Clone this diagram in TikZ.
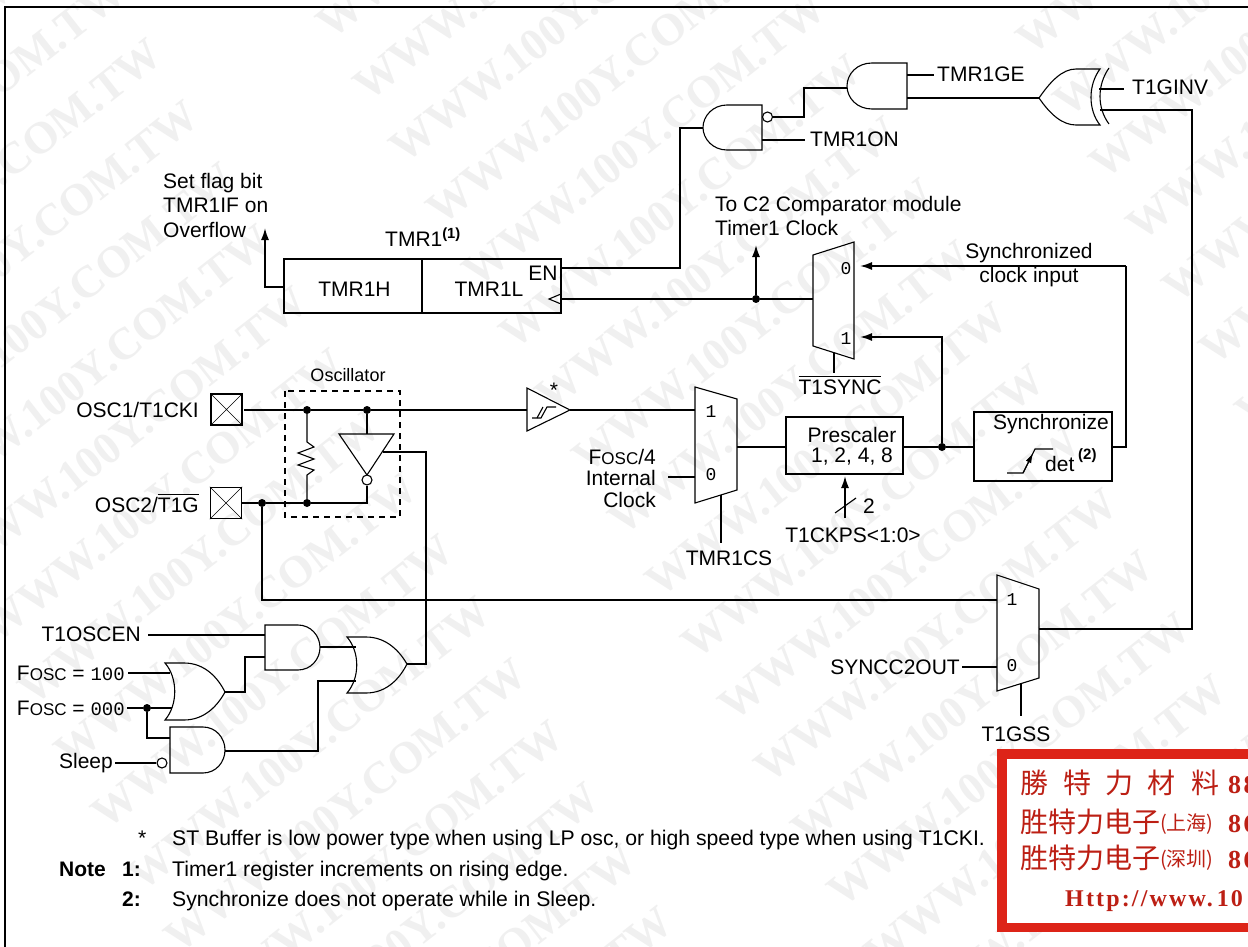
\documentclass[tikz,border=0pt]{standalone}
\usepackage{fontspec}
\usepackage{amsmath}
\setmainfont{Liberation Sans}
\newfontfamily\pinfont{Liberation Mono}
\newfontfamily\cjk{Noto Sans CJK SC}
\newfontfamily\stampfont[LetterSpace=9]{Liberation Serif}
\newfontfamily\markfont{Liberation Serif}
\usetikzlibrary{arrows.meta}
\definecolor{stampred}{RGB}{221,36,24}
\newcommand{\fosc}{F{\fontsize{17}{17}\selectfont OSC}}
\tikzset{
  wire/.style={line width=1.7pt},
  body/.style={line width=1.1pt},
  dot/.style={inner sep=0pt,minimum size=8pt,circle,fill=black},
  bubble/.style={circle,draw,body,fill=white,inner sep=0pt,minimum size=10pt},
  lbl/.style={inner sep=0pt,font=\fontsize{21}{24.5}\selectfont},
  small/.style={inner sep=0pt,font=\fontsize{18}{20}\selectfont},
  note/.style={inner sep=0pt,anchor=base west,font=\fontsize{21.2}{24}\selectfont},
  noteb/.style={note,font=\fontsize{21}{24}\selectfont\bfseries},
  pin/.style={inner sep=0pt,font=\pinfont\fontsize{18}{18}\selectfont},
  pad/.style={draw,line width=1.3pt,minimum size=31pt,inner sep=0pt},
  box/.style={draw,line width=1.5pt,inner sep=0pt},
  stamp/.style={inner sep=0pt,anchor=base west,text=stampred!85!black},
}
\begin{document}
\begin{tikzpicture}[x=1pt,y=-1pt,>={Latex[length=12pt,width=8pt]}]
\useasboundingbox (0,0) rectangle (1248,947);
\fill[white] (0,0) rectangle (1248,947);

% watermark
\foreach \j/\ia/\ib in {-1/-3/13,0/-1/16,1/5/12}{
  \foreach \i in {\ia,...,\ib}{
    \node[inner sep=0pt,anchor=west,rotate=38,text=black!6,font=\markfont\bfseries\fontsize{45}{45}\selectfont]
      (mark\i\j) at ({322.5+36.5*\i+481*\j},{29+62*\i-356*\j}) {WWW.100Y.COM.TW};
  }
}

% frame
\coordinate (frameA) at (5,947);
\coordinate (frameB) at (5,7);
\coordinate (frameC) at (1248,7);
\draw[line width=1.8pt] (frameA) -- (frameB) -- (frameC);

% gates
\draw[body] (907,63) -- (872,63) .. controls (857,63) and (847,74) .. (847,86) .. controls (847,98) and (857,109) .. (872,109) -- (907,109) -- cycle;
\draw[body] (762,105) -- (727,105) .. controls (713,105) and (703,116) .. (703,127.5) .. controls (703,139) and (713,150) .. (727,150) -- (762,150) -- cycle;
\draw[body] (1039,98) .. controls (1050,82) and (1062,69) .. (1076,69) -- (1100,69) .. controls (1088,85) and (1088,110) .. (1100,125) -- (1076,125) .. controls (1062,125) and (1050,114) .. (1039,98) -- cycle;
\draw[body] (1109,68) .. controls (1097,85) and (1097,108) .. (1109,124);
\draw[body] (265,625) -- (298,625) .. controls (311,625) and (320,636) .. (320,647.5) .. controls (320,659) and (311,670) .. (298,670) -- (265,670) -- cycle;
\draw[body] (165,663) -- (184,663) .. controls (205,663) and (218,678) .. (225,692) .. controls (218,705) and (205,720) .. (184,720) -- (165,720) .. controls (178,705) and (178,678) .. (165,663) -- cycle;
\draw[body] (170,727) -- (203,727) .. controls (216,727) and (225,738) .. (225,750) .. controls (225,762) and (216,773) .. (203,773) -- (170,773) -- cycle;
\draw[body] (347,637) -- (366,637) .. controls (387,637) and (400,652) .. (407,664) .. controls (400,678) and (387,693) .. (366,693) -- (347,693) .. controls (360,678) and (360,652) .. (347,637) -- cycle;
\node[bubble] (onB) at (767.5,117) {};
\node[bubble] (slB) at (162,763) {};

% TMR1 register
\node[box,minimum width=138pt,minimum height=54pt] (tmrH) at (353,286) {};
\node[box,minimum width=139pt,minimum height=54pt] (tmrL) at (491.5,286) {};
\node[lbl] (tmrHt) at (354.5,289) {TMR1H};
\node[lbl] (tmrLt) at (489,289) {TMR1L};
\node[lbl] (tmrEn) at (543,273) {EN};
\node[lbl,anchor=base] (tmrT) at (423,246) {TMR1\textsuperscript{\bfseries(1)}};
\node[lbl,anchor=west,align=left] (flagT) at (163,205) {Set flag bit\\TMR1IF on\\Overflow};
\coordinate (hPin) at (284,287);
\coordinate (enPin) at (561,268);
\coordinate (clkPin) at (561,299);
\coordinate (flagEnd) at (265,228);
\draw[body] (561,294) -- (549,299) -- (561,304);
\draw[wire,->] (hPin) -| (flagEnd);
\coordinate (onOut) at (703,128);
\coordinate (onCor) at (680,128);
\draw[wire] (onOut) -- (onCor) |- (enPin);
\coordinate (geOut) at (847,88);
\coordinate (geCor) at (804,88);
\draw[wire] (onB) -| (geCor) -- (geOut);
\node[lbl,anchor=west] (onT) at (810,139) {TMR1ON};
\coordinate (onIn) at (762,140);
\coordinate (onPin) at (805,140);
\draw[wire] (onIn) -- (onPin);
\node[lbl,anchor=west] (geT) at (937,74) {TMR1GE};
\coordinate (geIn) at (907,75);
\coordinate (gePin) at (934,75);
\draw[wire] (geIn) -- (gePin);
\coordinate (geIn2) at (907,98);
\coordinate (invTip) at (1039,98);
\draw[wire] (geIn2) -- (invTip);
\node[lbl,anchor=west] (invT) at (1132,87) {T1GINV};
\coordinate (invIn) at (1099,89);
\coordinate (invPin) at (1124,89);
\draw[wire] (invIn) -- (invPin);

% clock mux
\draw[body] (813,255) -- (854,242) -- (854,359) -- (813,346) -- cycle;
\coordinate (mOut) at (813,299);
\coordinate (mIn0) at (860,266);
\coordinate (mIn1) at (860,337);
\coordinate (mSel) at (834,352.5);
\node[pin] (mT0) at (846,269) {0};
\node[pin] (mT1) at (846,339) {1};
\node[dot] (dClk) at (756,299) {};
\coordinate (toC2) at (756,245);
\draw[wire] (clkPin) -- (dClk) -- (mOut);
\draw[wire,->] (dClk) -- (toC2);
\node[lbl,anchor=west,align=left] (c2T) at (715,216) {To C2 Comparator module\\Timer1 Clock};
\coordinate (syncBar) at (834,373);
\draw[wire] (mSel) -- (syncBar);
\node[lbl] (syncT) at (840,385) {$\overline{\mbox{T1SYNC}}$};
\node[lbl,align=center] (clkT) at (1029,265) {Synchronized\\clock input};

% prescaler and synchronizer
\node[box,minimum width=117pt,minimum height=57pt] (pre) at (844.5,445.5) {};
\node[lbl,align=center,font=\fontsize{21}{20}\selectfont] (preT) at (852,446) {Prescaler\\1, 2, 4, 8};
\node[box,minimum width=138pt,minimum height=69pt] (syn) at (1043,446.5) {};
\node[lbl,anchor=west] (synT) at (993,424) {Synchronize};
\node[lbl,anchor=base west] (detT) at (1045,471) {det};
\node[anchor=base west,inner sep=0pt,font=\fontsize{15}{15}\selectfont\bfseries] (detN) at (1078,459) {(2)};
\coordinate (edgeA) at (1007,473);
\coordinate (edgeB) at (1023,473);
\coordinate (edgeC) at (1035,449);
\coordinate (edgeD) at (1053,449);
\coordinate (edgeM) at (1033,453);
\draw[body] (edgeA) -- (edgeB) -- (edgeC) -- (edgeD);
\draw[body,-{Latex[length=10pt,width=6pt]}] (edgeB) -- (edgeM);
\node[dot] (dPre) at (942,447) {};
\coordinate (synOut) at (1112,447);
\coordinate (synCorner) at (1126,266);
\draw[wire] (pre.east |- dPre) -- (dPre) -- (syn.west |- dPre);
\draw[wire] (synOut) -| (synCorner);
\draw[wire,->] (synCorner) -- (mIn0);
\draw[wire,->] (dPre) |- (mIn1);
\coordinate (kpsA) at (845,518);
\coordinate (kpsB) at (845,476);
\coordinate (kpsC) at (835,513);
\coordinate (kpsD) at (856,498);
\draw[wire,->] (kpsA) -- (kpsB);
\draw[body] (kpsC) -- (kpsD);
\node[lbl] (kpsN) at (869,506) {2};
\node[lbl] (kpsT) at (853,535) {T1CKPS<1:0>};

% clock source mux
\draw[body] (695,387) -- (737,399) -- (737,490) -- (695,503) -- cycle;
\coordinate (sIn1) at (695,410);
\coordinate (sIn0) at (695,477);
\coordinate (sOut) at (737,447);
\coordinate (sSel) at (721,495);
\coordinate (sEnd) at (721,543);
\coordinate (sLine) at (668,477);
\node[pin] (sT1) at (711,412) {1};
\node[pin] (sT0) at (711,475) {0};
\draw[wire] (sOut) -- (pre.west |- sOut);
\draw[wire] (sLine) -- (sIn0);
\draw[wire] (sSel) -- (sEnd);
\node[lbl] (csT) at (729,558) {TMR1CS};
\node[lbl,align=right,anchor=east,font=\fontsize{21}{21.5}\selectfont] (foT) at (656,478) {\fosc/4\\Internal\\Clock};

% Schmitt buffer
\draw[body] (527,388) -- (570,410) coordinate (bufOut) -- (527,431) -- cycle;
\coordinate (bufIn) at (527,410);
\draw[body] (532,418) -- (541,418) -- (547,407) -- (556,407);
\draw[body] (537,418) -- (543,407);
\node[lbl] (bufS) at (554,390) {*};
\draw[wire] (bufOut) -- (sIn1);

% pads and oscillator
\node[pad] (pad1) at (226.5,409.5) {};
\node[pad] (pad2) at (226,503) {};
\draw[thin] (pad1.north west) -- (pad1.south east) (pad1.north east) -- (pad1.south west);
\draw[thin] (pad2.north west) -- (pad2.south east) (pad2.north east) -- (pad2.south west);
\node[lbl,anchor=east] (pad1T) at (199,410) {OSC1/T1CKI};
\node[lbl,anchor=east] (pad2T) at (199,503) {OSC2/$\overline{\mbox{T1G}}$};
\node[small] (oscT) at (348,375) {Oscillator};
\draw[body,dash pattern=on 6pt off 5pt] (285,391) rectangle (400,517);
\node[dot] (dA) at (307,410) {};
\node[dot] (dB) at (367,410) {};
\node[dot] (dC) at (307,503) {};
\node[dot] (dD) at (262,503) {};
\coordinate (p1Out) at (244,410);
\coordinate (p2Out) at (242,503);
\coordinate (invTop) at (367,434);
\coordinate (invBack) at (367,503);
\coordinate (invFb) at (383,452);
\coordinate (fbCorner) at (426,452);
\coordinate (orOut) at (407,664);
\draw[wire] (p1Out) -- (dA) -- (dB) -- (bufIn);
\draw[wire] (dB) -- (invTop);
\draw[body] (339,434) -- (394,434) -- (367,475) -- cycle;
\node[bubble] (invB) at (367,480) {};
\draw[wire] (p2Out) -- (dD) -- (dC) -- (invBack) -- (invB);
\draw[body] (dA) -- (307,442) -- (314,447) -- (298,453) -- (314,459) -- (298,465) -- (314,470) -- (307,475) -- (dC);
\draw[wire] (invFb) -- (fbCorner) |- (orOut);

% gate inputs
\node[lbl,anchor=east] (enT) at (141,634) {T1OSCEN};
\coordinate (enIn) at (148,635);
\coordinate (enA) at (265,635);
\coordinate (enB) at (265,657);
\coordinate (enOut) at (320,647);
\node[lbl,anchor=east] (f1T) at (125,673) {\fosc\ = {\pinfont\fontsize{19}{19}\selectfont 100}};
\coordinate (f1In) at (128,673);
\coordinate (f1A) at (170,673);
\node[lbl,anchor=east] (f0T) at (125,708) {\fosc\ = {\pinfont\fontsize{19}{19}\selectfont 000}};
\coordinate (f0In) at (127,708);
\coordinate (f0A) at (172,708);
\coordinate (foOut) at (225,692);
\node[lbl,anchor=east] (slT) at (113,763) {Sleep};
\coordinate (slIn) at (115,763);
\coordinate (slA) at (170,738);
\coordinate (slOut) at (225,751);
\coordinate (orA) at (356,647);
\coordinate (orB) at (356,681);
\coordinate (foCor) at (245,692);
\coordinate (slCor) at (318,751);
\node[dot] (dF) at (147,708) {};
\draw[wire] (enIn) -- (enA);
\draw[wire] (f1In) -- (f1A);
\draw[wire] (f0In) -- (dF) -- (f0A);
\draw[wire] (dF) |- (slA);
\draw[wire] (slIn) -- (slB);
\draw[wire] (foOut) -- (foCor) |- (enB);
\draw[wire] (enOut) -- (orA);
\draw[wire] (slOut) -- (slCor) |- (orB);

% gate mux
\draw[body] (997,575) -- (1039,589) -- (1039,678) -- (997,691) -- cycle;
\coordinate (gIn1) at (997,600);
\coordinate (gIn0) at (997,667);
\coordinate (gOut) at (1039,629);
\coordinate (gSel) at (1021,684);
\coordinate (gEnd) at (1021,716);
\coordinate (gLine) at (962,667);
\coordinate (invRet) at (1100,110);
\coordinate (retCor) at (1192,110);
\node[pin] (gT1) at (1012,600) {1};
\node[pin] (gT0) at (1012,666) {0};
\draw[wire] (dD) |- (gIn1);
\draw[wire] (gLine) -- (gIn0);
\draw[wire] (gSel) -- (gEnd);
\draw[wire] (gOut) -| (retCor) -- (invRet);
\node[lbl,anchor=east] (sccT) at (960,667) {SYNCC2OUT};
\node[lbl] (gssT) at (1016,734) {T1GSS};

% notes
\node[note] (n0) at (138,845) {*};
\node[note] (n1) at (172,845) {ST Buffer is low power type when using LP osc, or high speed type when using T1CKI.};
\node[noteb] (nN) at (59,876) {Note};
\node[noteb] (n1a) at (122,876) {1:};
\node[note] (n1b) at (172,876) {Timer1 register increments on rising edge.};
\node[noteb] (n2a) at (122,906) {2:};
\node[note] (n2b) at (172,906) {Synchronize does not operate while in Sleep.};

% stamp
\fill[stampred] (997,749) rectangle (1248,932);
\fill[white] (1007,759) rectangle (1248,923);
\foreach \c/\xx/\nm in {勝/1020/a,特/1063/b,力/1105/c,材/1147/d,料/1191/e}{
  \node[stamp,font=\cjk\fontsize{28}{28}\selectfont] (st\nm) at (\xx,793) {\c};
}
\node[stamp,font=\stampfont\bfseries\fontsize{26}{26}\selectfont] (stN1) at (1228,793) {88};
\node[stamp,font=\cjk\fontsize{28}{28}\selectfont] (st2) at (1020,832) {胜特力电子};
\node[stamp,font=\cjk\fontsize{20}{20}\selectfont] (st2b) at (1160,830) {(上海)};
\node[stamp,font=\stampfont\bfseries\fontsize{26}{26}\selectfont] (stN2) at (1228,832) {86};
\node[stamp,font=\cjk\fontsize{28}{28}\selectfont] (st3) at (1020,868) {胜特力电子};
\node[stamp,font=\cjk\fontsize{20}{20}\selectfont] (st3b) at (1160,866) {(深圳)};
\node[stamp,font=\stampfont\bfseries\fontsize{26}{26}\selectfont] (stN3) at (1228,868) {86};
\node[stamp,font=\stampfont\bfseries\fontsize{24}{24}\selectfont] (stW) at (1065,906) {Http://www.\,10};
\end{tikzpicture}
\end{document}
